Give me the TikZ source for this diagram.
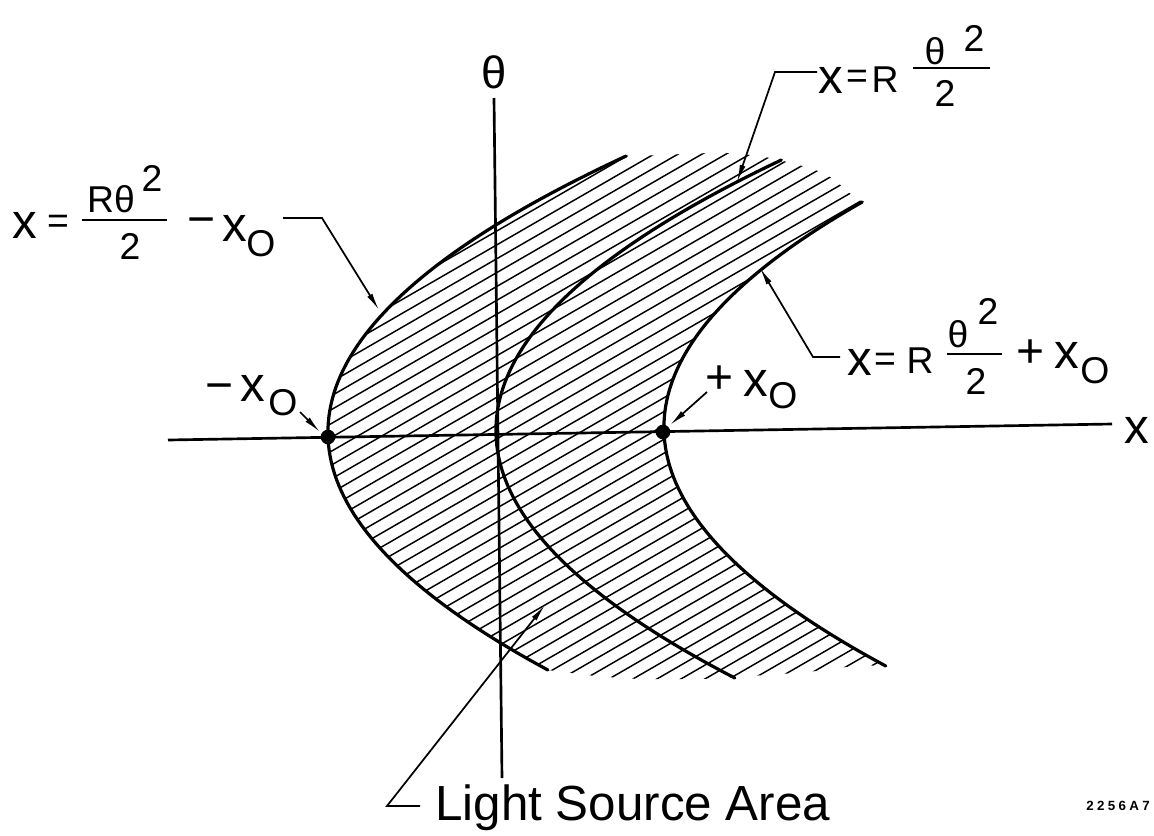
\documentclass[tikz,border=0pt]{standalone}
\usepackage{fontspec}
\setmainfont{Liberation Sans}
\usetikzlibrary{arrows.meta}
\begin{document}
\begin{tikzpicture}[x=0.75pt,y=-0.75pt,
  curve/.style={line width=2.4pt,line join=round,line cap=round},
  axisline/.style={line width=2pt},
  hatchline/.style={line width=1.1pt},
  leader/.style={line width=1.3pt,-{Latex[length=13pt,width=4.5pt]}},
  fbar/.style={line width=1.6pt},
  lbl/.style={font=\fontsize{28}{30}\selectfont,inner sep=0pt},
  sgn/.style={font=\fontsize{36}{38}\selectfont,inner sep=0pt},
  bigx/.style={font=\fontsize{37}{40}\selectfont,inner sep=0pt},
  dotnode/.style={circle,fill=black,inner sep=0pt,minimum size=11pt}]
\useasboundingbox (0,0) rectangle (1154,836);
% hatching between the outer parabolas
\begin{scope}
\clip plot[domain=-233:281,samples=90,variable=\t] ({328+39*(\t/100)*(\t/100)-0.035*\t},{437-\t})
 -- plot[smooth] coordinates {(662,155) (723,153) (770,158) (823,173) (848,192)}
 -- plot[domain=230:-234,samples=90,variable=\t] ({664+39*(\t/100)*(\t/100)-0.035*\t},{432-\t})
 -- plot[smooth] coordinates {(859,665) (825,670) (794,673) (764,675) (740,677) (698,679) (641,679) (595,676)} -- cycle;
\foreach \k in {-42,...,10} \draw[hatchline] ({620.5+24*\k},700) -- ++(952.6,-550);
\end{scope}
% axes
\coordinate (thTop) at (494,98);
\coordinate (thBot) at (502,778);
\coordinate (xLeft) at (168,440);
\coordinate (xRight) at (1112,424);
\draw[axisline] (thTop) -- (thBot);
\draw[axisline] (xLeft) -- (xRight);
\node[font=\fontsize{34}{36}\selectfont,inner sep=0pt] (thLbl) at (494,72) {θ};
\node[bigx] (xLbl) at (1137,430) {x};
% the three parabolas
\draw[curve] plot[domain=-233:281,samples=90,variable=\t] ({328+39*(\t/100)*(\t/100)-0.035*\t},{437-\t});
\draw[curve] plot[domain=-243:275,samples=90,variable=\t] ({496+39*(\t/100)*(\t/100)-0.035*\t},{435-\t});
\draw[curve] plot[domain=-234:230,samples=90,variable=\t] ({664+39*(\t/100)*(\t/100)-0.035*\t},{432-\t});
% dots
\node[dotnode] (dotL) at (328,437) {};
\node[dotnode] (dotR) at (663,432) {};
% label A : x = R theta^2/2 - x0
\node[bigx] (A1) at (25,225) {x};
\node[lbl] (A2) at (58,224) {=};
\node[lbl] (A3) at (111,199) {Rθ};
\node[lbl] (A4) at (152,178) {2};
\coordinate (barA1) at (82,220);
\coordinate (barA2) at (167,220);
\draw[fbar] (barA1) -- (barA2);
\node[lbl] (A5) at (130,246) {2};
\node[sgn] (A6) at (202,227) {−};
\node[bigx] (A7) at (235,228) {x};
\node[lbl] (A8) at (261,244) {O};
\coordinate (startA) at (283,218);
\coordinate (cornerA) at (322,218);
\coordinate (tipA) at (379,310);
\draw[leader] (startA) -- (cornerA) -- (tipA);
% label B : x = R theta^2/2
\node[bigx] (B1) at (831,80) {x};
\node[lbl] (B2) at (857,79) {=};
\node[lbl] (B3) at (885,80) {R};
\coordinate (barB1) at (913,68);
\coordinate (barB2) at (990,68);
\draw[fbar] (barB1) -- (barB2);
\node[lbl] (B4) at (935,51) {θ};
\node[lbl] (B5) at (974,38) {2};
\node[lbl] (B6) at (945,93) {2};
\coordinate (startB) at (817,72);
\coordinate (cornerB) at (775,72);
\coordinate (tipB) at (737,182);
\draw[leader] (startB) -- (cornerB) -- (tipB);
% label C : x = R theta^2/2 + x0
\node[bigx] (C1) at (860,362) {x};
\node[lbl] (C2) at (885,362) {=};
\node[lbl] (C3) at (920,361) {R};
\coordinate (barC1) at (947,354);
\coordinate (barC2) at (1002,354);
\draw[fbar] (barC1) -- (barC2);
\node[lbl] (C4) at (958,334) {θ};
\node[lbl] (C5) at (988,311) {2};
\node[lbl] (C6) at (976,381) {2};
\node[sgn] (C7) at (1031,354) {+};
\node[bigx] (C8) at (1067,355) {x};
\node[lbl] (C9) at (1095,371) {O};
\coordinate (startC) at (840,357);
\coordinate (cornerC) at (813,357);
\coordinate (tipC) at (760,268);
\draw[leader] (startC) -- (cornerC) -- (tipC);
% label D : -x0
\node[sgn] (D1) at (220,393) {−};
\node[bigx] (D2) at (253,388) {x};
\node[lbl] (D3) at (283,403) {O};
\coordinate (startD) at (300,412);
\coordinate (tipD) at (320,432);
\draw[leader] (startD) -- (tipD);
% label E : +x0
\node[sgn] (E1) at (720,380) {+};
\node[bigx] (E2) at (756,383) {x};
\node[lbl] (E3) at (783,396) {O};
\coordinate (startE) at (707,392);
\coordinate (tipE) at (670,425);
\draw[leader] (startE) -- (tipE);
% light source
\node[font=\fontsize{37}{40}\selectfont,inner sep=0pt,anchor=base west] (LSA) at (435,820) {Light Source Area};
\coordinate (startL) at (420,806);
\coordinate (cornerL) at (387,806);
\coordinate (tipL) at (545,605);
\draw[leader] (startL) -- (cornerL) -- (tipL);
% id
\node[font=\fontsize{10}{12}\selectfont\bfseries\addfontfeature{LetterSpace=25},inner sep=0pt,anchor=base east] (idn) at (1150,810) {2256A7};
\end{tikzpicture}
\end{document}
